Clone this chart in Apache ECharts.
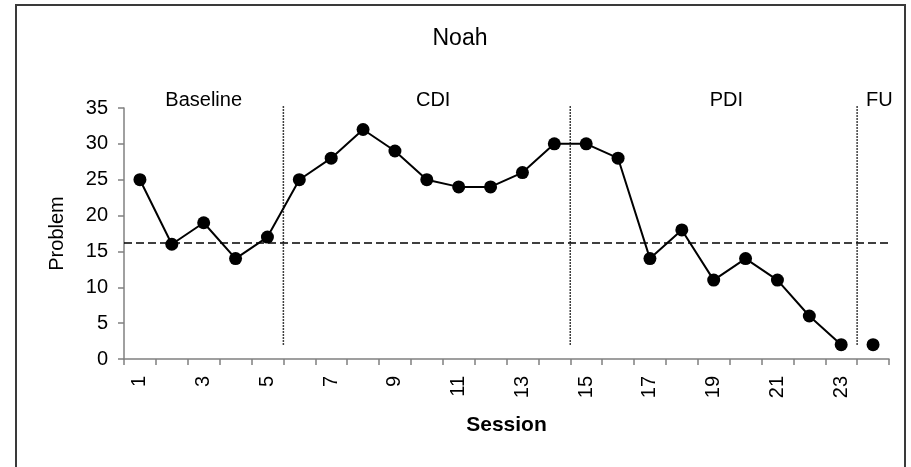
<!DOCTYPE html>
<html>
<head>
<meta charset="utf-8">
<script src="https://cdn.jsdelivr.net/npm/echarts@6/dist/echarts.min.js"></script>
<style>
html, body { margin: 0; padding: 0; background: #fff; }
#chart { width: 911px; height: 467px; }
</style>
</head>
<body>
<div id="chart"></div>
<script>
// sessions 1..24
var sessions = ['1', '2', '3', '4', '5', '6', '7', '8', '9', '10', '11', '12',
  '13', '14', '15', '16', '17', '18', '19', '20', '21', '22', '23', '24']
// problem score per session (session 24 is follow-up, not joined to the line)
var problem = [25, 16, 19, 14, 17, 25, 28, 32, 29, 25, 24, 24,
  26, 30, 30, 28, 14, 18, 11, 14, 11, 6, 2, '-']
var followUp = ['-', '-', '-', '-', '-', '-', '-', '-', '-', '-', '-', '-',
  '-', '-', '-', '-', '-', '-', '-', '-', '-', '-', '-', 2]
var criterion = 16.2
var phaseNames = ['Baseline', 'CDI', 'PDI', 'FU']
var phaseLabelAt = [3, 10.2, 19.4, 24.2]   // session units
var phaseChanges = [5.5, 14.5, 23.5]       // between sessions
var phaseLineRange = [2, 35.4]             // problem units
var yMin = 0
var yMax = 35
var yStep = 5

var font = '"Liberation Sans", Arial, sans-serif'
var chart = echarts.init(document.getElementById('chart'))

var phaseLines = phaseChanges.map(function(x) {
  return {
    type: 'line',
    xAxisIndex: 1,
    yAxisIndex: 0,
    data: [[x, phaseLineRange[0]], [x, phaseLineRange[1]]],
    symbol: 'none',
    clip: false,
    silent: true,
    lineStyle: { color: '#000', width: 1.5, type: [1.5, 1.5] },
    z: 1
  }
})

chart.setOption({
  animation: false,
  textStyle: { fontFamily: font },
  grid: { left: 124, right: 22, top: 108, bottom: 108, containLabel: false },
  xAxis: [
    {
      type: 'category',
      data: sessions,
      boundaryGap: true,
      name: 'Session',
      nameLocation: 'middle',
      nameGap: 56,
      nameTextStyle: { fontSize: 21, fontWeight: 'bold', color: '#000', fontFamily: font },
      axisLine: { lineStyle: { color: '#808080', width: 1.5 } },
      axisTick: { show: true, interval: 0, length: 6, lineStyle: { color: '#808080', width: 1.5 } },
      axisLabel: { interval: 1, rotate: 90, margin: 17, fontSize: 20, color: '#000', fontFamily: font },
      splitLine: { show: false }
    },
    {
      type: 'value',
      min: 0.5,
      max: 24.5,
      show: false
    }
  ],
  yAxis: {
    type: 'value',
    min: yMin,
    max: yMax,
    interval: yStep,
    name: 'Problem',
    nameLocation: 'middle',
    nameGap: 57,
    nameTextStyle: { fontSize: 20, color: '#000', fontFamily: font },
    axisLine: { show: true, lineStyle: { color: '#808080', width: 1.5 } },
    axisTick: { show: true, length: 6, lineStyle: { color: '#808080', width: 1.5 } },
    axisLabel: { margin: 16, fontSize: 20, color: '#000', fontFamily: font },
    splitLine: { show: false }
  },
  series: [
    {
      type: 'line',
      data: problem,
      symbol: 'circle',
      symbolSize: 13,
      itemStyle: { color: '#000' },
      lineStyle: { color: '#000', width: 2 },
      z: 3,
      markLine: {
        silent: true,
        symbol: 'none',
        label: { show: false },
        lineStyle: { color: '#000', width: 1.5, type: [8, 4] },
        data: [{ yAxis: criterion }]
      }
    },
    {
      type: 'line',
      data: followUp,
      symbol: 'circle',
      symbolSize: 13,
      itemStyle: { color: '#000' },
      lineStyle: { color: '#000', width: 2 },
      z: 3
    }
  ].concat(phaseLines)
})

// frame, title and phase labels; label x comes from the session scale
var graphics = [
  {
    id: 'frame',
    type: 'rect',
    shape: { x: 16, y: 5, width: 889, height: 480 },
    style: { fill: 'none', stroke: '#3a3a3a', lineWidth: 2 },
    silent: true
  },
  {
    id: 'title',
    type: 'text',
    x: 460,
    y: 39,
    style: { text: 'Noah', fill: '#000', font: '23px ' + font, textAlign: 'center', textVerticalAlign: 'middle' },
    silent: true
  }
].concat(phaseNames.map(function(name, i) {
  return {
    id: 'phase' + i,
    type: 'text',
    x: chart.convertToPixel({ xAxisIndex: 1 }, phaseLabelAt[i]),
    y: 100,
    style: { text: name, fill: '#000', font: '20px ' + font, textAlign: 'center', textVerticalAlign: 'middle' },
    silent: true
  }
}))

chart.setOption({ graphic: graphics })
</script>
</body>
</html>
